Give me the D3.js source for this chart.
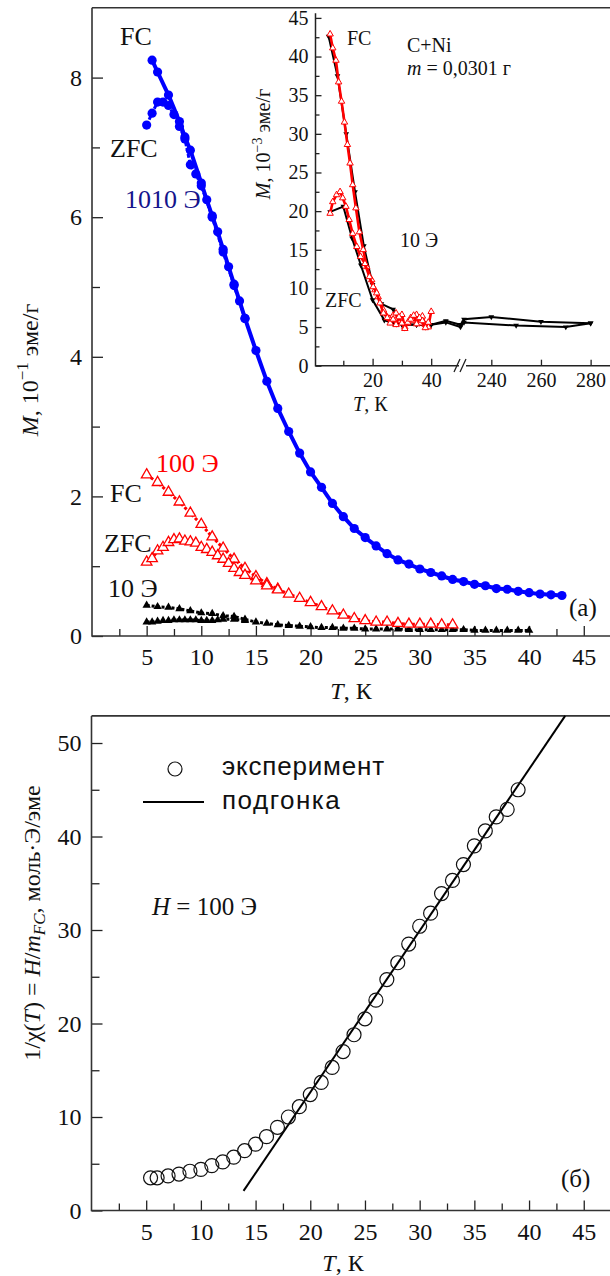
<!DOCTYPE html>
<html><head><meta charset="utf-8">
<script src="https://cdn.jsdelivr.net/npm/d3@7"></script>
<style>body{margin:0;background:#fff}svg{display:block}</style>
</head><body>
<svg id="c" width="610" height="1276"></svg>
<script>
// ---------- Panel (a): magnetization vs temperature ----------
const blueFC_T = [5.5, 6, 7, 8, 8.5, 9, 10, 10.5, 11, 11.5, 12, 12.5, 13, 13.5, 14, 15, 16, 17, 18, 19, 20, 21, 22, 23, 24, 25, 26, 27, 28, 29, 30, 31, 32, 33, 34, 35, 36, 37, 38, 39, 40, 41, 42, 43];
const blueFC_M = [8.25, 8.08, 7.75, 7.37, 7.15, 6.96, 6.49, 6.25, 6.02, 5.79, 5.54, 5.29, 5.04, 4.8, 4.55, 4.09, 3.65, 3.26, 2.93, 2.62, 2.35, 2.13, 1.90, 1.71, 1.54, 1.41, 1.29, 1.18, 1.09, 1.03, 0.96, 0.91, 0.86, 0.81, 0.78, 0.74, 0.72, 0.68, 0.67, 0.64, 0.62, 0.60, 0.59, 0.58];
const blueZFC_T = [5.0, 5.5, 6.0, 6.5, 7.0, 7.5, 8.0, 8.5, 9.0, 9.5, 10, 11, 12, 13, 14];
const blueZFC_M = [7.32, 7.49, 7.65, 7.65, 7.6, 7.47, 7.3, 7.12, 6.75, 6.62, 6.45, 6.0, 5.5, 5.02, 4.55];

const redFC_T = [5, 6, 7, 8, 9, 10, 11, 12, 13, 14, 15, 16, 17, 18, 19, 20, 21, 22, 23, 24, 25, 26, 27, 28, 29, 30, 31, 32, 33];
const redFC_M = [2.31, 2.2, 2.06, 1.92, 1.76, 1.6, 1.42, 1.26, 1.10, 0.97, 0.85, 0.75, 0.67, 0.6, 0.54, 0.48, 0.42, 0.36, 0.3, 0.25, 0.22, 0.2, 0.2, 0.18, 0.17, 0.17, 0.17, 0.16, 0.16];
const redZFC_T = [5, 5.5, 6, 6.5, 7, 7.5, 8, 8.5, 9, 9.5, 10, 10.5, 11, 11.5, 12, 12.5, 13, 13.5, 14, 15, 16, 17];
const redZFC_M = [1.06, 1.11, 1.22, 1.27, 1.34, 1.38, 1.39, 1.36, 1.35, 1.33, 1.27, 1.24, 1.2, 1.15, 1.1, 1.04, 0.97, 0.91, 0.87, 0.79, 0.72, 0.66];

const blackFC_T = [5, 6, 7, 8, 9, 10, 11, 12, 13, 14, 15, 16, 17, 18, 19, 20, 21, 22, 23, 24, 25, 26, 27, 28, 29, 30, 31, 32, 33, 34, 35, 36, 37, 38, 39, 40];
const blackFC_M = [0.44, 0.42, 0.41, 0.39, 0.36, 0.33, 0.32, 0.29, 0.28, 0.24, 0.2, 0.18, 0.16, 0.15, 0.14, 0.13, 0.12, 0.12, 0.11, 0.11, 0.1, 0.1, 0.1, 0.1, 0.09, 0.09, 0.09, 0.09, 0.09, 0.09, 0.08, 0.08, 0.08, 0.08, 0.08, 0.08];
const blackZFC_T = [5, 5.5, 6, 6.5, 7, 7.5, 8, 8.5, 9, 9.5, 10, 10.5, 11, 11.5, 12, 13, 14];
const blackZFC_M = [0.2, 0.2, 0.21, 0.22, 0.22, 0.23, 0.23, 0.23, 0.23, 0.23, 0.22, 0.22, 0.22, 0.23, 0.24, 0.24, 0.22];

const aTicksMajorX = [5, 10, 15, 20, 25, 30, 35, 40, 45];
const aTicksMinorX = [2.5, 7.5, 12.5, 17.5, 22.5, 27.5, 32.5, 37.5, 42.5];
const aTicksMajorY = [0, 2, 4, 6, 8];
const aTicksMinorY = [1, 3, 5, 7];

// ---------- Inset: 10 Э, low-field curves with extended range ----------
const inRedFC_T = [5.5, 6.4, 7.5, 8.4, 9.4, 10.4, 11.4, 12.3, 13.2, 14.3, 15.5, 16.8, 18, 19.7, 20.8, 21.9, 23.7, 25.9, 27, 28, 29, 30, 31, 32, 33, 34, 35, 36, 37, 38, 39, 40];
const inRedFC_V = [42.9, 41.1, 39.5, 36.7, 34.2, 31.5, 28.6, 26.2, 23.4, 20.4, 17.3, 15.0, 12.8, 11.1, 9.8, 8.9, 7.2, 6.1, 6.5, 6.8, 5.8, 6.6, 5.0, 5.5, 6.2, 5.8, 6.6, 5.5, 6.4, 5.3, 5.0, 7.0];
const inRedZFC_T = [5.5, 6.4, 7.7, 8.9, 9.8, 10.9, 12, 13.2, 14.6, 15.9, 17.4, 18.9, 20.2, 21.4, 22.5, 23.7, 25, 26, 27, 28, 29, 30, 31, 32, 33, 34, 35, 36, 37, 38, 39];
const inRedZFC_V = [19.7, 21.2, 22.1, 22.5, 21.7, 20.6, 18.9, 17.1, 15.4, 14.1, 13.2, 11.5, 10.2, 9.4, 8.1, 6.8, 6.2, 5.5, 6.0, 5.3, 6.3, 5.5, 4.8, 5.6, 6.0, 6.5, 5.4, 6.2, 5.8, 4.9, 5.6];
const inBlackFC_T = [5, 8, 11, 14, 17, 20, 23, 27, 30, 35, 40, 45, 50, 229, 240, 260, 280];
const inBlackFC_V = [42.6, 37.5, 30, 22.5, 15.5, 10.5, 8, 7.3, 5.3, 5.3, 5.3, 5.8, 5.3, 6.0, 6.3, 5.7, 5.5];
const inBlackZFC_T = [5.5, 10, 13, 16, 20, 24, 27, 30, 35, 40, 45, 50, 229, 250, 270, 280];
const inBlackZFC_V = [19.9, 20.6, 16.5, 13, 8.5, 5.9, 5.5, 5.4, 5.3, 5.3, 5.6, 5.0, 5.6, 5.2, 5.0, 5.5];
const inTicksY = [0, 5, 10, 15, 20, 25, 30, 35, 40, 45];
const inTicksYMinor = [2.5, 7.5, 12.5, 17.5, 22.5, 27.5, 32.5, 37.5, 42.5];
const inTicksXLeft = [20, 40];
const inTicksXLeftMinor = [10, 30];
const inTicksXRight = [240, 260, 280];

// ---------- Panel (б): inverse susceptibility ----------
const chiT = [5.4, 6, 7, 8, 9, 10, 11, 12, 13, 14, 15, 16, 17, 18, 19, 20, 21, 22, 23, 24, 25, 26, 27, 28, 29, 30, 31, 32, 33, 34, 35, 36, 37, 38, 39];
const chiV = [3.5, 3.5, 3.7, 3.9, 4.2, 4.4, 4.8, 5.2, 5.7, 6.4, 7.1, 7.9, 8.9, 10.0, 11.1, 12.4, 13.7, 15.3, 17.0, 18.8, 20.5, 22.5, 24.7, 26.5, 28.5, 30.4, 31.8, 33.9, 35.3, 37.0, 39.0, 40.6, 42.1, 42.9, 45.0];
const fitT = [13.9, 43.3];
const fitV = [2.1, 52.9];
const bTicksMajorY = [0, 10, 20, 30, 40, 50];
const bTicksMinorY = [5, 15, 25, 35, 45];

const serif = '"Liberation Serif", "Times New Roman", serif';
const sans = '"Liberation Sans", Arial, sans-serif';
const svg = d3.select('#c');
const zip = (a, b) => a.map((v, i) => [v, b[i]]);

function styleAxis(g, size) {
  g.attr('font-family', serif).attr('font-size', size);
  g.selectAll('.domain').remove();
  g.selectAll('line').attr('stroke', '#222').attr('stroke-width', 1.3);
  g.selectAll('text').attr('fill', '#111').attr('font-family', serif);
}

// ====== Panel (a) ======
const xA = d3.scaleLinear().domain([0, 47.4]).range([92, 610]);
const yA = d3.scaleLinear().domain([0, 9]).range([636, 7.8]);
const gA = svg.append('g');

gA.append('g').attr('transform', 'translate(0,636)')
  .call(d3.axisBottom(xA).tickValues(aTicksMajorX).tickSizeInner(-10).tickSizeOuter(0).tickPadding(12))
  .call(g => styleAxis(g, 24));
gA.append('g').attr('transform', 'translate(0,636)')
  .call(d3.axisBottom(xA).tickValues(aTicksMinorX).tickSizeInner(-7).tickSizeOuter(0).tickFormat(''))
  .call(g => styleAxis(g, 24));
gA.append('g').attr('transform', 'translate(92,0)')
  .call(d3.axisLeft(yA).tickValues(aTicksMajorY).tickSizeInner(-11).tickSizeOuter(0).tickPadding(10))
  .call(g => styleAxis(g, 24));
gA.append('g').attr('transform', 'translate(92,0)')
  .call(d3.axisLeft(yA).tickValues(aTicksMinorY).tickSizeInner(-8).tickSizeOuter(0).tickFormat(''))
  .call(g => styleAxis(g, 24));
// frame lines
gA.append('path').attr('d', `M92,${yA(9)}H610M92,${yA(9)}V636H610`)
  .attr('fill', 'none').attr('stroke', '#333').attr('stroke-width', 1.6);

const lineA = d3.line().x(d => xA(d[0])).y(d => yA(d[1]));

// 10 Э (black filled triangles)
[[blackFC_T, blackFC_M], [blackZFC_T, blackZFC_M]].forEach(([t, m]) => {
  gA.append('path').attr('d', lineA(zip(t, m))).attr('fill', 'none')
    .attr('stroke', '#000').attr('stroke-width', 3).attr('stroke-dasharray', '3,2');
  gA.selectAll(null).data(zip(t, m)).enter().append('path')
    .attr('d', d3.symbol(d3.symbolTriangle, 30))
    .attr('transform', d => `translate(${xA(d[0])},${yA(d[1])})`).attr('fill', '#000');
});
// 100 Э (red open triangles)
[[redFC_T, redFC_M], [redZFC_T, redZFC_M]].forEach(([t, m]) => {
  gA.append('path').attr('d', lineA(zip(t, m))).attr('fill', 'none')
    .attr('stroke', '#f00').attr('stroke-width', 3).attr('stroke-dasharray', '3,2');
  gA.selectAll(null).data(zip(t, m)).enter().append('path')
    .attr('d', d3.symbol(d3.symbolTriangle, 48))
    .attr('transform', d => `translate(${xA(d[0])},${yA(d[1])})`)
    .attr('fill', '#fff').attr('stroke', '#f00').attr('stroke-width', 1.3);
});
// 1010 Э (blue filled circles)
[[blueFC_T, blueFC_M], [blueZFC_T, blueZFC_M]].forEach(([t, m], i) => {
  gA.append('path').attr('d', lineA(zip(t, m))).attr('fill', 'none')
    .attr('stroke', '#0000ff').attr('stroke-width', i === 0 ? 4 : 3)
    .attr('stroke-dasharray', i === 0 ? null : '4,2');
  gA.selectAll(null).data(zip(t, m)).enter().append('circle')
    .attr('cx', d => xA(d[0])).attr('cy', d => yA(d[1])).attr('r', 4.6).attr('fill', '#0000ff');
});

// annotations
const tA = (x, y, s, fill, size) => gA.append('text').attr('x', x).attr('y', y).text(s)
  .attr('font-family', serif).attr('font-size', size || 26).attr('fill', fill || '#111');
tA(120, 45, 'FC');
tA(110, 157, 'ZFC');
tA(125, 208, '1010 Э', '#14148c');
tA(156, 472, '100 Э', '#f00');
tA(110, 502, 'FC');
tA(104, 552, 'ZFC');
tA(108, 597, '10 Э');
tA(569, 616, '(a)', '#111', 25);

// axis titles
const ttlA = gA.append('text').attr('font-family', serif).attr('font-size', 24).attr('fill', '#111')
  .attr('text-anchor', 'middle').attr('transform', 'translate(351,699)');
ttlA.append('tspan').attr('font-style', 'italic').text('T');
ttlA.append('tspan').text(', К');

const ylA = gA.append('text').attr('font-family', serif).attr('font-size', 24).attr('fill', '#111')
  .attr('text-anchor', 'middle').attr('transform', 'translate(38,370) rotate(-90)');
ylA.append('tspan').attr('font-style', 'italic').text('M');
ylA.append('tspan').text(', 10');
ylA.append('tspan').attr('font-size', 17).attr('dy', -10).text('−1');
ylA.append('tspan').attr('dy', 10).text(' эме/г');

// ====== Inset ======
const xIL = d3.scaleLinear().domain([0, 50]).range([314, 460.5]);
const xIR = d3.scaleLinear().domain([229, 287]).range([464, 608]);
const xI = t => (t <= 60 ? xIL(t) : xIR(t));
const yI = d3.scaleLinear().domain([0, 45]).range([365.7, 17.9]);
const gI = svg.append('g');

gI.append('g').attr('transform', 'translate(315.5,0)')
  .call(d3.axisLeft(yI).tickValues(inTicksY).tickSizeInner(-6).tickSizeOuter(0).tickPadding(7))
  .call(g => styleAxis(g, 20));
gI.append('g').attr('transform', 'translate(315.5,0)')
  .call(d3.axisLeft(yI).tickValues(inTicksYMinor).tickSizeInner(-4).tickSizeOuter(0).tickFormat(''))
  .call(g => styleAxis(g, 20));
gI.append('g').attr('transform', 'translate(0,365.7)')
  .call(d3.axisBottom(xIL).tickValues(inTicksXLeft).tickSizeInner(-7).tickSizeOuter(0).tickPadding(7))
  .call(g => styleAxis(g, 20));
gI.append('g').attr('transform', 'translate(0,365.7)')
  .call(d3.axisBottom(xIL).tickValues(inTicksXLeftMinor).tickSizeInner(-5).tickSizeOuter(0).tickFormat(''))
  .call(g => styleAxis(g, 20));
gI.append('g').attr('transform', 'translate(0,365.7)')
  .call(d3.axisBottom(xIR).tickValues(inTicksXRight).tickSizeInner(-6).tickSizeOuter(0).tickPadding(7))
  .call(g => styleAxis(g, 20));
gI.append('path').attr('d', `M315.5,${yI(45.6)}V365.7H459M466,365.7H610`)
  .attr('fill', 'none').attr('stroke', '#222').attr('stroke-width', 1.5);
// axis break marks
gI.append('path').attr('d', 'M454,372L460,359M460,372L466,359')
  .attr('fill', 'none').attr('stroke', '#222').attr('stroke-width', 1.3);

const lineI = d3.line().x(d => xI(d[0])).y(d => yI(d[1]));
[[inBlackFC_T, inBlackFC_V], [inBlackZFC_T, inBlackZFC_V]].forEach(([t, v]) => {
  gI.append('path').attr('d', lineI(zip(t, v))).attr('fill', 'none')
    .attr('stroke', '#000').attr('stroke-width', 2);
  gI.selectAll(null).data(zip(t, v)).enter().append('path')
    .attr('d', d3.symbol(d3.symbolTriangle, 14))
    .attr('transform', d => `translate(${xI(d[0])},${yI(d[1])}) rotate(180)`).attr('fill', '#000');
});
[[inRedFC_T, inRedFC_V], [inRedZFC_T, inRedZFC_V]].forEach(([t, v]) => {
  gI.append('path').attr('d', lineI(zip(t, v))).attr('fill', 'none')
    .attr('stroke', '#f00').attr('stroke-width', 2.6);
  gI.selectAll(null).data(zip(t, v)).enter().append('path')
    .attr('d', d3.symbol(d3.symbolTriangle, 18))
    .attr('transform', d => `translate(${xI(d[0])},${yI(d[1])})`)
    .attr('fill', '#fff').attr('stroke', '#f00').attr('stroke-width', 1);
});

const tI = (x, y, s) => gI.append('text').attr('x', x).attr('y', y).text(s)
  .attr('font-family', serif).attr('font-size', 20).attr('fill', '#111');
tI(347, 45, 'FC');
tI(407, 52, 'C+Ni');
const mTxt = gI.append('text').attr('x', 407).attr('y', 75).attr('font-family', serif)
  .attr('font-size', 20).attr('fill', '#111');
mTxt.append('tspan').attr('font-style', 'italic').text('m');
mTxt.append('tspan').text(' = 0,0301 г');
tI(400, 247, '10 Э');
tI(325, 307, 'ZFC');

const ttlI = gI.append('text').attr('font-family', serif).attr('font-size', 20).attr('fill', '#111')
  .attr('transform', 'translate(353,411)');
ttlI.append('tspan').attr('font-style', 'italic').text('T');
ttlI.append('tspan').text(', К');
const ylI = gI.append('text').attr('font-family', serif).attr('font-size', 20).attr('fill', '#111')
  .attr('text-anchor', 'middle').attr('transform', 'translate(270,144) rotate(-90)');
ylI.append('tspan').attr('font-style', 'italic').text('M');
ylI.append('tspan').text(', 10');
ylI.append('tspan').attr('font-size', 14).attr('dy', -8).text('−3');
ylI.append('tspan').attr('dy', 8).text(' эме/г');

// ====== Panel (б) ======
const xB = d3.scaleLinear().domain([0, 47.4]).range([91.5, 610]);
const yB = d3.scaleLinear().domain([0, 52.9]).range([1210.5, 715.9]);
const gB = svg.append('g');

gB.append('g').attr('transform', 'translate(0,1210.5)')
  .call(d3.axisBottom(xB).tickValues(aTicksMajorX).tickSizeInner(-10).tickSizeOuter(0).tickPadding(12))
  .call(g => styleAxis(g, 24));
gB.append('g').attr('transform', 'translate(0,1210.5)')
  .call(d3.axisBottom(xB).tickValues(aTicksMinorX).tickSizeInner(-7).tickSizeOuter(0).tickFormat(''))
  .call(g => styleAxis(g, 24));
gB.append('g').attr('transform', 'translate(91.5,0)')
  .call(d3.axisLeft(yB).tickValues(bTicksMajorY).tickSizeInner(-11).tickSizeOuter(0).tickPadding(10))
  .call(g => styleAxis(g, 24));
gB.append('g').attr('transform', 'translate(91.5,0)')
  .call(d3.axisLeft(yB).tickValues(bTicksMinorY).tickSizeInner(-8).tickSizeOuter(0).tickFormat(''))
  .call(g => styleAxis(g, 24));
gB.append('path').attr('d', `M91.5,${yB(52.9)}H610M91.5,${yB(52.9)}V1210.5H610`)
  .attr('fill', 'none').attr('stroke', '#333').attr('stroke-width', 1.6);

const lineB = d3.line().x(d => xB(d[0])).y(d => yB(d[1]));
gB.append('path').attr('d', lineB(zip(fitT, fitV))).attr('fill', 'none')
  .attr('stroke', '#000').attr('stroke-width', 2);
gB.selectAll(null).data(zip(chiT, chiV)).enter().append('circle')
  .attr('cx', d => xB(d[0])).attr('cy', d => yB(d[1])).attr('r', 7)
  .attr('fill', 'none').attr('stroke', '#111').attr('stroke-width', 1.2);

// legend
gB.append('circle').attr('cx', 175).attr('cy', 769).attr('r', 7)
  .attr('fill', 'none').attr('stroke', '#111').attr('stroke-width', 1.2);
gB.append('text').attr('x', 222).attr('y', 775).text('эксперимент')
  .attr('font-family', sans).attr('font-size', 26).attr('letter-spacing', 0.8).attr('fill', '#111');
gB.append('line').attr('x1', 143).attr('x2', 204).attr('y1', 802).attr('y2', 802)
  .attr('stroke', '#000').attr('stroke-width', 2);
gB.append('text').attr('x', 222).attr('y', 809).text('подгонка')
  .attr('font-family', sans).attr('font-size', 26).attr('letter-spacing', 1.5).attr('fill', '#111');

const hTxt = gB.append('text').attr('x', 152).attr('y', 915).attr('font-family', serif)
  .attr('font-size', 25).attr('fill', '#111');
hTxt.append('tspan').attr('font-style', 'italic').text('H');
hTxt.append('tspan').text(' = 100 Э');
gB.append('text').attr('x', 561).attr('y', 1187).text('(б)')
  .attr('font-family', serif).attr('font-size', 25).attr('fill', '#111');

const ttlB = gB.append('text').attr('font-family', serif).attr('font-size', 24).attr('fill', '#111')
  .attr('text-anchor', 'middle').attr('transform', 'translate(343,1271)');
ttlB.append('tspan').attr('font-style', 'italic').text('T');
ttlB.append('tspan').text(', К');

const ylB = gB.append('text').attr('font-family', serif).attr('font-size', 24).attr('fill', '#111')
  .attr('text-anchor', 'middle').attr('transform', 'translate(40,923) rotate(-90)');
ylB.append('tspan').text('1/χ(');
ylB.append('tspan').attr('font-style', 'italic').text('T');
ylB.append('tspan').text(') = ');
ylB.append('tspan').attr('font-style', 'italic').text('H');
ylB.append('tspan').text('/');
ylB.append('tspan').attr('font-style', 'italic').text('m');
ylB.append('tspan').attr('font-style', 'italic').attr('font-size', 17).attr('dy', 5).text('FC');
ylB.append('tspan').attr('dy', -5).text(', моль·Э/эме');
</script>
</body></html>
